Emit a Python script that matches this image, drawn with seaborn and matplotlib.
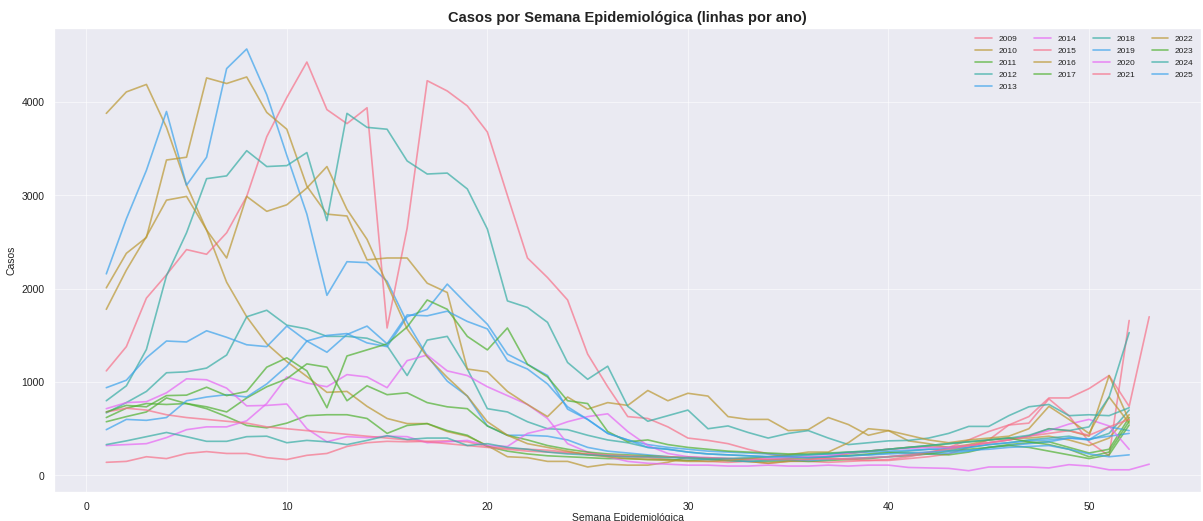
import numpy as np
import pandas as pd
import matplotlib
matplotlib.use("Agg")
import matplotlib.pyplot as plt
import seaborn as sns

anos = [str(a) for a in range(2009, 2026)]

c2009 = [140,150,200,180,235,255,235,235,190,170,
         215,235,310,350,365,360,365,370,360,310,
         290,280,270,250,230,210,200,190,170,160,
         150,140,150,130,150,150,140,150,160,160,
         180,200,230,300,380,540,560,820,640,360,
         210,1660]
c2010 = [3880,4110,4190,3730,3110,2630,2070,1700,1410,1220,
         1060,890,900,740,610,555,555,470,420,320,
         200,190,150,150,90,120,110,110,140,200,
         180,160,150,130,150,170,200,230,260,280,
         300,310,300,330,380,400,400,420,380,320,
         400,650]
c2011 = [575,630,680,830,770,715,630,535,510,560,
         640,650,650,610,450,535,555,480,430,310,
         260,230,210,200,190,180,180,170,170,160,
         170,160,150,150,160,150,160,170,180,200,
         210,230,220,250,300,330,350,360,300,240,
         280,620]
c2012 = [670,780,900,1100,1110,1150,1290,1700,1770,1610,
         1570,1490,1490,1470,1390,1070,1450,1490,1140,715,
         680,575,500,490,430,380,350,300,280,250,
         230,220,210,200,200,190,200,210,220,240,
         260,280,270,300,330,350,380,400,420,380,
         450,700]
c2013 = [2160,2750,3270,3900,3110,3410,4360,4570,4080,3430,
         2800,1930,2290,2280,2080,1640,1280,1010,850,530,
         430,430,420,380,300,260,240,220,200,180,
         170,160,150,160,170,160,170,180,190,200,
         220,230,240,260,300,320,340,360,400,380,
         520,480]
c2014 = [320,330,340,405,490,520,520,585,770,1055,
         990,950,1080,1055,940,1230,1290,1120,1070,950,
         855,760,610,340,250,200,150,130,120,110,
         110,100,100,110,100,100,110,100,110,110,
         85,80,75,50,90,90,90,80,115,100,
         60,60,120]
c2015 = [1120,1380,1900,2150,2420,2370,2600,2990,3630,4050,
         4430,3920,3770,3940,1580,2650,4230,4120,3960,3680,
         3000,2330,2120,1880,1300,950,630,610,520,400,
         375,340,280,230,200,190,180,170,160,170,
         200,240,300,380,470,540,630,830,830,930,
         1070,740,1700]
c2016 = [2010,2380,2550,3380,3410,4260,4200,4270,3890,3710,
         3100,2800,2780,2310,2330,2330,2060,1960,1140,1110,
         900,760,630,840,710,780,750,910,800,880,
         850,630,600,600,480,490,620,545,430,480,
         370,340,300,320,350,380,420,500,480,420,
         1070,590]
c2017 = [620,720,770,760,770,735,680,830,950,1035,
         1195,1160,800,960,865,885,780,735,715,530,
         430,380,320,280,250,230,220,210,200,190,
         180,180,170,170,180,190,200,210,230,250,
         240,230,260,280,300,320,300,260,220,180,
         220,540]
c2018 = [800,960,1350,2140,2600,3180,3210,3480,3310,3320,
         3460,2730,3880,3730,3710,3370,3230,3240,3070,2640,
         1870,1800,1640,1210,1030,1170,740,580,640,700,
         500,530,460,400,450,480,400,330,350,370,
         375,400,450,525,525,640,735,760,640,650,
         640,725]
c2019 = [490,600,590,620,800,840,865,840,980,1170,
         1440,1500,1520,1420,1380,1700,1780,2050,1830,1620,
         1300,1190,1070,710,600,450,380,330,300,280,
         260,250,240,230,220,220,230,240,250,260,
         270,280,290,300,330,350,370,380,400,390,
         420,450]
c2020 = [715,780,790,885,1035,1025,935,745,750,765,
         500,360,415,405,420,415,350,360,375,320,
         310,450,500,575,630,660,470,320,235,200,
         190,180,170,180,190,200,210,240,260,280,
         290,300,300,320,350,380,420,480,550,600,
         530,280]
c2021 = [680,720,700,650,620,600,580,560,520,500,
         480,460,440,420,400,380,360,340,320,300,
         280,260,250,240,230,220,210,200,200,190,
         190,180,180,170,170,170,180,180,190,200,
         220,250,280,320,350,380,420,450,480,430,
         520,600]
c2022 = [1780,2200,2560,2950,2990,2630,2330,2990,2830,2900,
         3080,3310,2850,2530,2050,1570,1270,1050,850,575,
         430,340,300,260,220,200,180,170,160,150,
         150,160,180,200,220,250,250,350,500,480,
         430,380,350,380,400,420,500,740,600,450,
         840,560]
c2023 = [680,750,735,855,860,945,855,900,1160,1260,
         1120,725,1280,1345,1410,1590,1880,1780,1490,1345,
         1580,1190,1055,800,770,470,360,380,330,300,
         280,260,250,240,230,230,240,250,260,280,
         300,320,340,360,380,400,360,330,280,200,
         250,580]
c2024 = [330,370,415,460,415,365,365,415,420,350,
         375,360,330,375,425,385,400,400,320,340,
         300,280,250,230,220,210,200,200,190,190,
         180,180,190,200,210,220,230,250,260,280,
         300,320,340,360,380,400,430,500,480,520,
         840,1530]
c2025 = [940,1020,1260,1440,1430,1550,1480,1400,1380,1600,
         1440,1320,1510,1600,1410,1720,1710,1760,1650,1570,
         1230,1140,980,735,600,450,380,300,280,250,
         230,220,210,200,200,190,200,210,220,230,
         240,250,260,270,280,300,310,320,280,230,
         200,220]

series = [c2009, c2010, c2011, c2012, c2013, c2014, c2015, c2016, c2017,
          c2018, c2019, c2020, c2021, c2022, c2023, c2024, c2025]

rows = []
for ano, vals in zip(anos, series):
    for i, v in enumerate(vals):
        rows.append({"ano": ano, "semana": i + 1, "casos": v})
df = pd.DataFrame(rows)

sns.set_theme(style="darkgrid")
plt.rcParams["font.family"] = ["Liberation Sans", "DejaVu Sans"]
plt.rcParams["text.color"] = "#222222"
plt.rcParams["axes.labelcolor"] = "#222222"
plt.rcParams["xtick.color"] = "#222222"
plt.rcParams["ytick.color"] = "#222222"

base = sns.color_palette("husl", 6)
pal = {a: base[i % 6] for i, a in enumerate(anos)}

fig, ax = plt.subplots(figsize=(16.05, 6.95), dpi=75)
sns.lineplot(data=df, x="semana", y="casos", hue="ano", hue_order=anos,
             palette=pal, alpha=0.7, linewidth=1.6, ax=ax)

ax.grid(True, color="white", alpha=0.55, linewidth=1.0)
ax.set_title("Casos por Semana Epidemiológica (linhas por ano)",
             fontsize=14, fontweight="bold")
ax.set_xlabel("Semana Epidemiológica", fontsize=10, labelpad=1)
ax.set_ylabel("Casos", fontsize=10)
ax.tick_params(labelsize=10)
h, l = ax.get_legend_handles_labels()
ax.legend(h, l, ncol=4, fontsize=8, loc="upper right", frameon=False)

fig.subplots_adjust(left=0.045, right=0.998, top=0.946, bottom=0.056)
fig.savefig("out.png", dpi=75)
